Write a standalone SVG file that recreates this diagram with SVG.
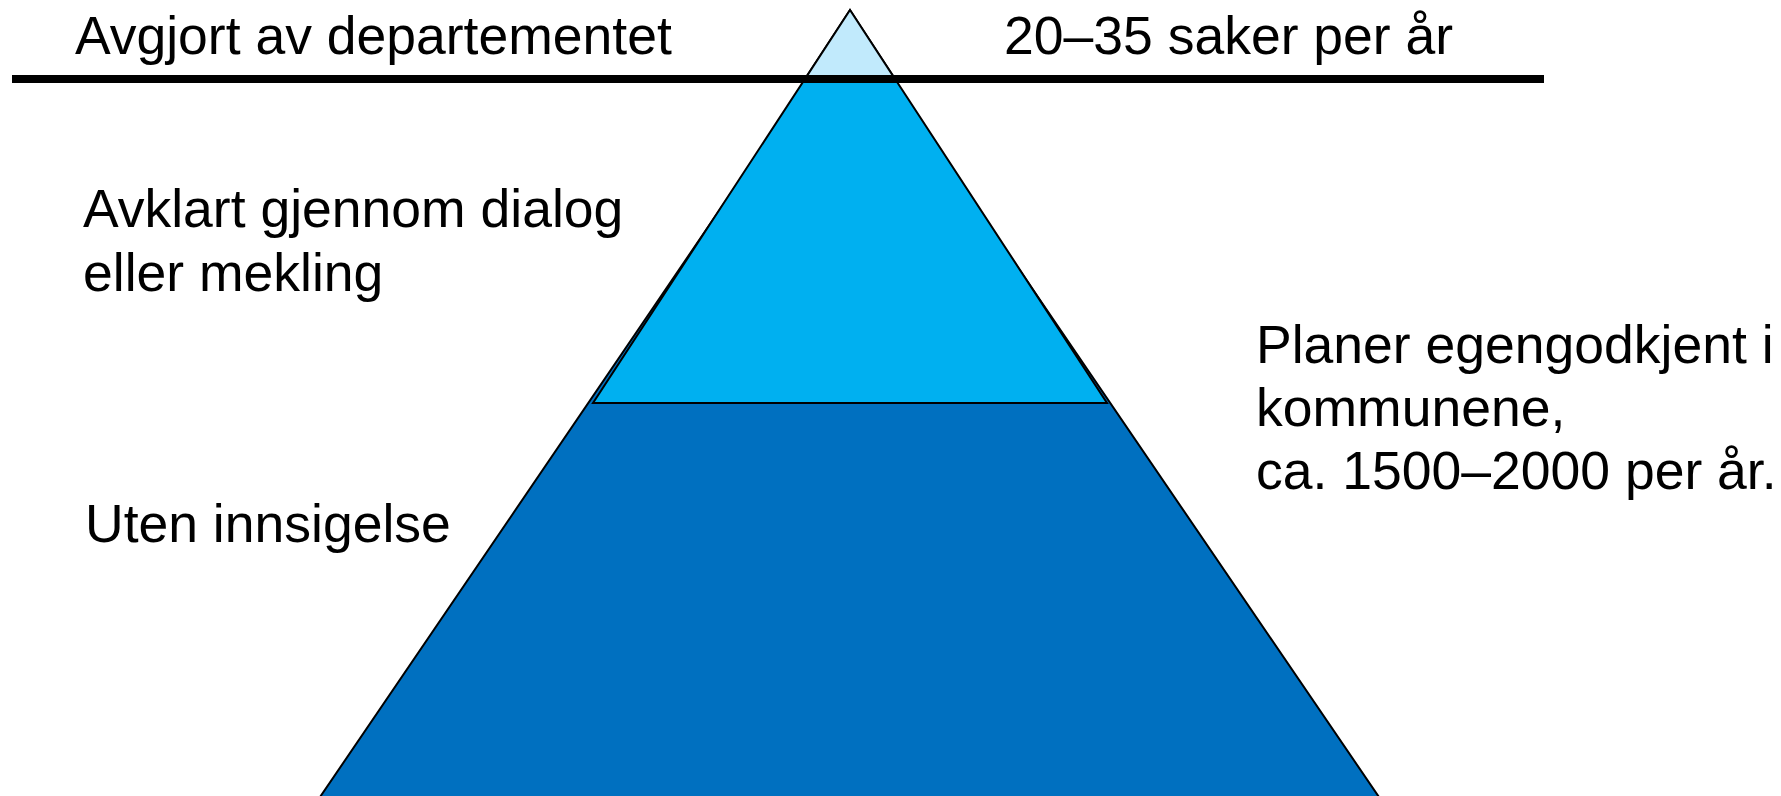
<svg xmlns="http://www.w3.org/2000/svg" width="1781" height="796" viewBox="0 0 1781 796">
<style>
.t{font-family:"Liberation Sans",Arial,sans-serif;font-size:53.5px;fill:#000}
.s{stroke:#000;stroke-width:2;stroke-linejoin:miter}
</style>
<rect width="1781" height="796" fill="#fff"/>
<g id="base">
<polygon class="s" points="849,20 318,800 1381,800" fill="#0070C0"/>
</g>
<g id="middle">
<polygon class="s" points="850,10 593,403 1107,403" fill="#00B0F0"/>
</g>
<g id="top">
<polygon class="s" points="850,10 805,79 895,79" fill="#C1EAFC"/>
</g>
<g id="connectors">
<line x1="12" y1="79" x2="1544" y2="79" stroke="#000" stroke-width="8"/>
</g>
<g id="labels">
<text class="t" x="75" y="54">Avgjort av departementet</text>
<text class="t" x="1004" y="54">20–35 saker per år</text>
<text class="t" x="83" y="227">Avklart gjennom dialog</text>
<text class="t" x="83" y="291">eller mekling</text>
<text class="t" x="85" y="542">Uten innsigelse</text>
<text class="t" x="1256" y="363">Planer egengodkjent i</text>
<text class="t" x="1256" y="426">kommunene,</text>
<text class="t" x="1256" y="489">ca. 1500–2000 per år.</text>
</g>
</svg>
